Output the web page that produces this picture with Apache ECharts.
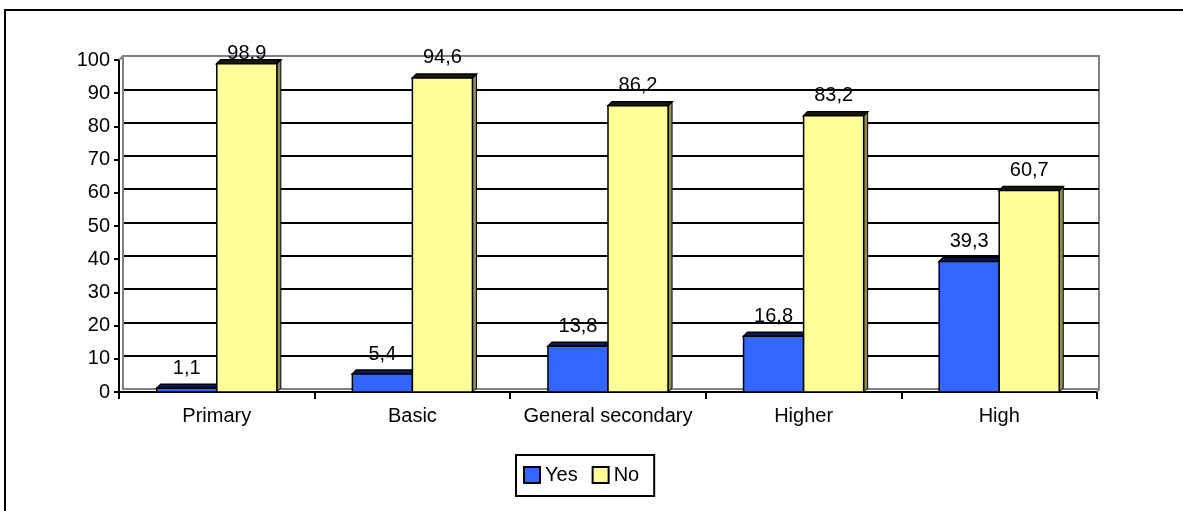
<!DOCTYPE html>
<html>
<head>
<meta charset="utf-8">
<script src="https://cdn.jsdelivr.net/npm/echarts@6/dist/echarts.min.js"></script>
<style>
  html, body { margin: 0; padding: 0; background: #fff; }
  #chart { width: 1183px; height: 511px; }
</style>
</head>
<body>
<div id="chart"></div>
<script>
// Education level categories and shares (%) of answers
const categories = ['Primary', 'Basic', 'General secondary', 'Higher', 'High'];
const yesValues = [1.1, 5.4, 13.8, 16.8, 39.3];
const noValues = [98.9, 94.6, 86.2, 83.2, 60.7];
const seriesNames = ['Yes', 'No'];

const FONT = '"Liberation Sans", Arial, sans-serif';
const FONT_SIZE = 20;
const DEPTH = 4;          // 3D offset of top and side faces
const BAR_SHARE = 0.307;  // width of one bar as a share of the category band

const palette = {
  Yes: { front: '#3366FF', top: '#0a1a55', side: '#1a337f' },
  No:  { front: '#FFFF99', top: '#1a1a0a', side: '#8c8c55' }
};

function fmt(v) { return String(v).replace('.', ','); }

function make3dBar(name, idx) {
  const c = palette[name];
  return function (params, api) {
    const cat = api.value(0);
    const val = api.value(1);
    const base = api.coord([cat, 0]);
    const top = api.coord([cat, val]);
    const band = api.size([1, 0])[0];
    const w = band * BAR_SHARE;
    const x0 = base[0] + (idx === 0 ? -w : 0);
    const yt = top[1];
    const yb = base[1];
    const d = DEPTH;
    const y100 = api.coord([cat, 100])[1];
    const labelBottom = Math.max(yt - d - 6, y100 + 3);
    return {
      type: 'group',
      children: [
        {
          type: 'polygon',
          shape: { points: [[x0 + w, yt], [x0 + w + d, yt - d], [x0 + w + d, yb - d], [x0 + w, yb]] },
          style: { fill: c.side, stroke: '#000', lineWidth: 1 }
        },
        {
          type: 'polygon',
          shape: { points: [[x0, yt], [x0 + d, yt - d], [x0 + w + d, yt - d], [x0 + w, yt]] },
          style: { fill: c.top, stroke: '#000', lineWidth: 1.5 }
        },
        {
          type: 'rect',
          shape: { x: x0, y: yt, width: w, height: yb - yt },
          style: { fill: c.front, stroke: '#000', lineWidth: 1.5 }
        },
        {
          type: 'text',
          x: x0 + w / 2,
          y: labelBottom,
          style: {
            text: fmt(val),
            fill: '#000',
            font: FONT_SIZE + 'px ' + FONT,
            align: 'center',
            verticalAlign: 'bottom'
          }
        }
      ]
    };
  };
}

const splitColors = ['#808080', '#000', '#000', '#000', '#000', '#000', '#000', '#000', '#000', '#000', '#808080'];

const chart = echarts.init(document.getElementById('chart'), null, { renderer: 'canvas' });
chart.setOption({
  animation: false,
  backgroundColor: '#fff',
  textStyle: { fontFamily: FONT, color: '#000' },
  graphic: [
    {
      type: 'rect',
      shape: { x: 5, y: 10, width: 1300, height: 700 },
      style: { fill: null, stroke: '#000', lineWidth: 2 },
      silent: true
    },
    {
      type: 'line',
      shape: { x1: 119, y1: 60, x2: 123, y2: 56 },
      style: { stroke: '#808080', lineWidth: 2 },
      z: 5
    },
    {
      type: 'line',
      shape: { x1: 1097, y1: 392, x2: 1099, y2: 389 },
      style: { stroke: '#808080', lineWidth: 2 },
      z: 5
    }
  ],
  grid: [
    { left: 119, top: 60, width: 978, height: 332, containLabel: false },
    { left: 123, top: 56, width: 976, height: 333, show: true, borderColor: '#808080', borderWidth: 2, z: 0 }
  ],
  xAxis: [
    {
      type: 'category',
      gridIndex: 0,
      data: categories,
      boundaryGap: true,
      axisLine: { show: true, lineStyle: { color: '#000', width: 2 } },
      axisTick: { show: true, length: 7, lineStyle: { color: '#000', width: 2 } },
      axisLabel: { color: '#000', fontSize: FONT_SIZE, fontFamily: FONT, margin: 14, interval: 0 },
      z: 3
    },
    {
      type: 'category',
      gridIndex: 1,
      data: categories,
      show: false
    }
  ],
  yAxis: [
    {
      type: 'value',
      gridIndex: 0,
      min: 0, max: 100, interval: 10,
      axisLine: { show: true, lineStyle: { color: '#000', width: 2 } },
      axisTick: { show: true, length: 5, lineStyle: { color: '#000', width: 2 } },
      axisLabel: { color: '#000', fontSize: FONT_SIZE, fontFamily: FONT, margin: 9 },
      splitLine: { show: false },
      z: 3
    },
    {
      type: 'value',
      gridIndex: 1,
      min: 0, max: 100, interval: 10,
      axisLine: { show: true, lineStyle: { color: '#808080', width: 2 } },
      axisTick: { show: false },
      axisLabel: { show: false },
      splitLine: { show: true, lineStyle: { color: splitColors, width: 2 } },
      z: 1
    }
  ],
  legend: {
    left: 516,
    top: 455,
    orient: 'horizontal',
    padding: [10, 15, 11, 7],
    itemGap: 14,
    itemWidth: 16,
    itemHeight: 16,
    backgroundColor: '#fff',
    borderColor: '#000',
    borderWidth: 2,
    borderRadius: 0,
    textStyle: { fontSize: FONT_SIZE, fontFamily: FONT, color: '#000' },
    data: [
      { name: 'Yes', icon: 'rect', itemStyle: { color: palette.Yes.front, borderColor: '#000', borderWidth: 2 } },
      { name: 'No', icon: 'rect', itemStyle: { color: palette.No.front, borderColor: '#000', borderWidth: 2 } }
    ]
  },
  series: [
    {
      name: seriesNames[0],
      type: 'custom',
      xAxisIndex: 0,
      yAxisIndex: 0,
      itemStyle: { color: palette.Yes.front },
      renderItem: make3dBar('Yes', 0),
      encode: { x: 0, y: 1 },
      data: yesValues.map((v, i) => [i, v]),
      z: 4
    },
    {
      name: seriesNames[1],
      type: 'custom',
      xAxisIndex: 0,
      yAxisIndex: 0,
      itemStyle: { color: palette.No.front },
      renderItem: make3dBar('No', 1),
      encode: { x: 0, y: 1 },
      data: noValues.map((v, i) => [i, v]),
      z: 4
    }
  ]
});
</script>
</body>
</html>
